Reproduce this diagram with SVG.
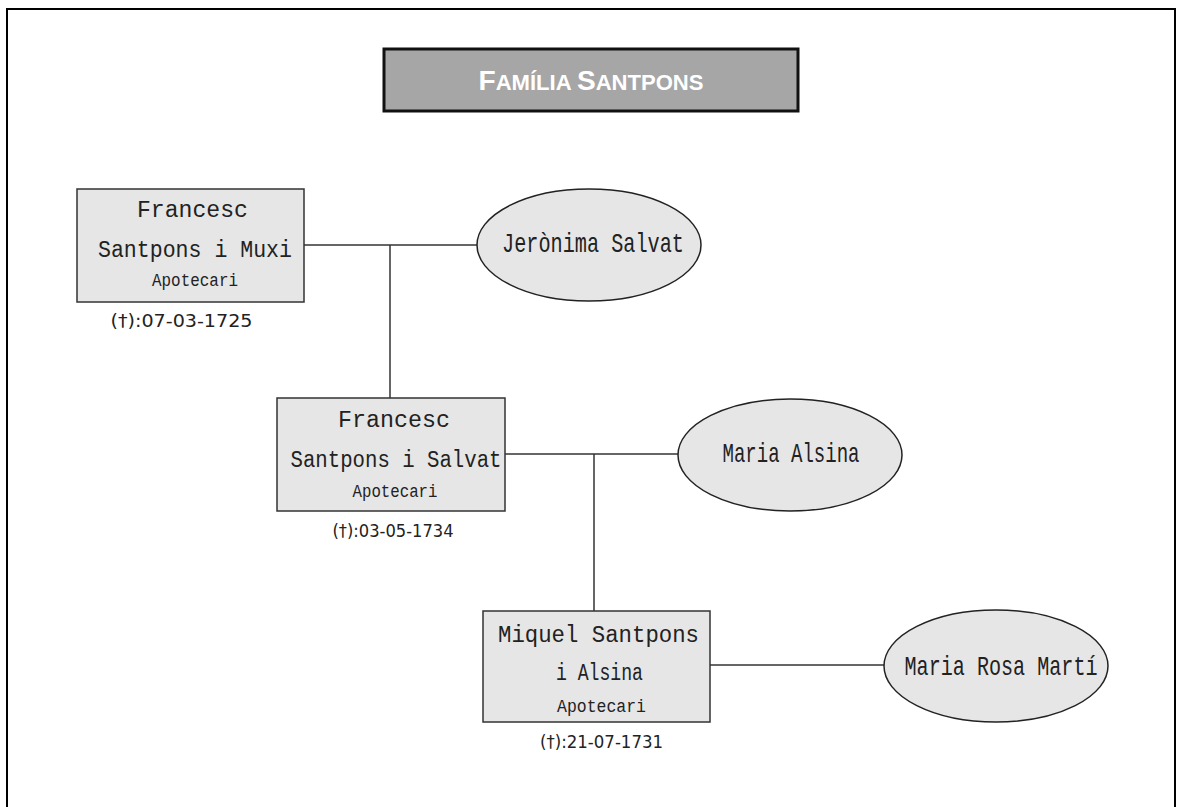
<svg xmlns="http://www.w3.org/2000/svg" width="1177" height="807" viewBox="0 0 1177 807">
<style>
.box{fill:#e6e6e6;stroke:#333;stroke-width:1.5}
.ell{fill:#e6e6e6;stroke:#222;stroke-width:1.5}
.ln{stroke:#333;stroke-width:1.5;fill:none}
.nm{font-family:"Liberation Mono","DejaVu Sans Mono",monospace;font-size:23px;fill:#222;text-anchor:middle}
.sp{font-family:"Liberation Mono","DejaVu Sans Mono",monospace;font-size:28px;fill:#222;text-anchor:middle}
.job{font-family:"Liberation Mono","DejaVu Sans Mono",monospace;font-size:19px;fill:#222;text-anchor:middle}
.dt{font-family:"DejaVu Sans","Liberation Sans",sans-serif;font-stretch:condensed;font-size:17px;fill:#222;text-anchor:middle}
.ttl{font-family:"Liberation Sans",Arial,sans-serif;font-weight:bold;fill:#fff;text-anchor:middle}
</style>
<rect x="7" y="9" width="1168" height="810" fill="#fff" stroke="#000" stroke-width="2"/>
<g id="title">
<rect x="384" y="49" width="414" height="62" fill="#a6a6a6" stroke="#111" stroke-width="3"/>
<text class="ttl" x="591" y="90" textLength="225" lengthAdjust="spacingAndGlyphs"><tspan font-size="28">F</tspan><tspan font-size="22">AMÍLIA </tspan><tspan font-size="28">S</tspan><tspan font-size="22">ANTPONS</tspan></text>
</g>
<g id="connectors">
<line class="ln" x1="304" y1="245" x2="477" y2="245"/>
<line class="ln" x1="390" y1="245" x2="390" y2="398"/>
<line class="ln" x1="505" y1="454" x2="678" y2="454"/>
<line class="ln" x1="594" y1="454" x2="594" y2="611"/>
<line class="ln" x1="710" y1="665" x2="884" y2="665"/>
</g>
<g id="francesc-muxi">
<rect class="box" x="77" y="189" width="227" height="113"/>
<text class="nm" x="192.5" y="217" textLength="111" lengthAdjust="spacingAndGlyphs">Francesc</text>
<text class="nm" x="195" y="257" textLength="194" lengthAdjust="spacingAndGlyphs">Santpons i Muxi</text>
<text class="job" x="195" y="286" textLength="86" lengthAdjust="spacingAndGlyphs">Apotecari</text>
<text class="dt" x="181.5" y="327" textLength="142" lengthAdjust="spacingAndGlyphs">(†):07-03-1725</text>
</g>
<g id="jeronima-salvat">
<ellipse class="ell" cx="589" cy="245" rx="112" ry="56"/>
<text class="sp" x="593" y="252" textLength="182" lengthAdjust="spacingAndGlyphs">Jerònima Salvat</text>
</g>
<g id="francesc-salvat">
<rect class="box" x="277" y="398" width="228" height="113"/>
<text class="nm" x="394" y="427" textLength="112" lengthAdjust="spacingAndGlyphs">Francesc</text>
<text class="nm" x="396" y="467" textLength="211" lengthAdjust="spacingAndGlyphs">Santpons i Salvat</text>
<text class="job" x="395" y="497" textLength="85" lengthAdjust="spacingAndGlyphs">Apotecari</text>
<text class="dt" x="393" y="537" textLength="121" lengthAdjust="spacingAndGlyphs">(†):03-05-1734</text>
</g>
<g id="maria-alsina">
<ellipse class="ell" cx="790" cy="455" rx="112" ry="56"/>
<text class="sp" x="791" y="462" textLength="137" lengthAdjust="spacingAndGlyphs">Maria Alsina</text>
</g>
<g id="miquel-alsina">
<rect class="box" x="483" y="611" width="227" height="111"/>
<text class="nm" x="598.5" y="642" textLength="201" lengthAdjust="spacingAndGlyphs">Miquel Santpons</text>
<text class="nm" x="599.5" y="680" textLength="87" lengthAdjust="spacingAndGlyphs">i Alsina</text>
<text class="job" x="601.5" y="712" textLength="89" lengthAdjust="spacingAndGlyphs">Apotecari</text>
<text class="dt" x="601.5" y="748" textLength="123" lengthAdjust="spacingAndGlyphs">(†):21-07-1731</text>
</g>
<g id="maria-rosa-marti">
<ellipse class="ell" cx="996" cy="666" rx="112" ry="56"/>
<text class="sp" x="1001" y="675" textLength="193" lengthAdjust="spacingAndGlyphs">Maria Rosa Martí</text>
</g>
</svg>
